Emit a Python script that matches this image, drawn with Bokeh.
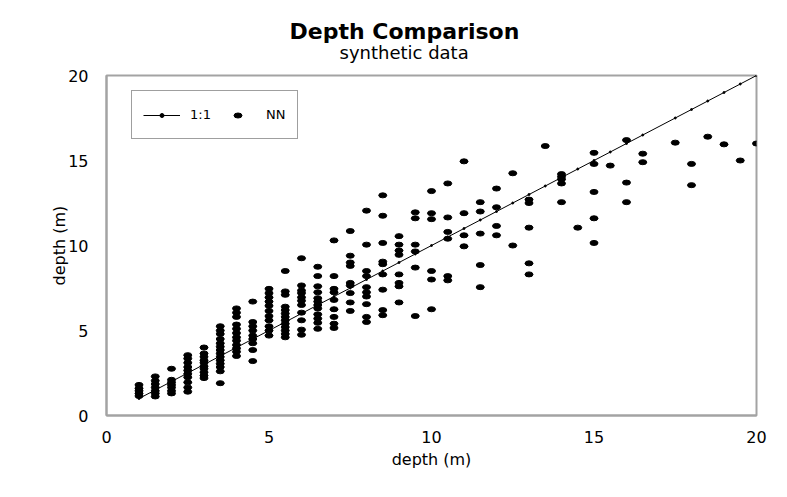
from bokeh.plotting import figure
from bokeh.models import Legend, LegendItem, Range1d, FixedTicker, Title
from bokeh.embed import file_html
from bokeh.resources import INLINE

# ---- data ----
columns = [1, 1.5, 2, 2.5, 3, 3.5, 4, 4.5, 5, 5.5, 6, 6.5, 7, 7.5, 8, 8.5, 9, 9.5,
           10, 10.5, 11, 11.5, 12, 12.5, 13, 13.5, 14, 14.5, 15, 15.5, 16, 16.5,
           17.5, 18, 18.5, 19, 19.5, 20]
depths = [
    [1.8, 1.6, 1.45, 1.3, 1.15],
    [2.3, 2.05, 1.85, 1.65, 1.45, 1.3, 1.12],
    [2.75, 2.1, 1.95, 1.8, 1.65, 1.45, 1.3],
    [3.55, 3.35, 3.1, 2.85, 2.65, 2.45, 2.25, 1.95, 1.65, 1.4],
    [4.0, 3.65, 3.45, 3.25, 3.1, 2.9, 2.75, 2.55, 2.35, 2.2],
    [5.25, 5.0, 4.8, 4.5, 4.25, 4.05, 3.85, 3.65, 3.45, 3.25, 3.05, 2.85, 2.6, 1.9],
    [6.3, 6.05, 5.8, 5.35, 5.1, 4.85, 4.6, 4.4, 4.15, 3.95, 3.75, 3.5],
    [6.7, 5.5, 5.25, 5.0, 4.7, 4.5, 4.25, 3.85, 3.2],
    [7.45, 7.2, 6.95, 6.7, 6.45, 6.15, 5.85, 5.6, 5.25, 5.0, 4.7],
    [8.5, 7.3, 7.1, 6.4, 6.2, 6.0, 5.8, 5.6, 5.4, 5.2, 5.0, 4.8, 4.6],
    [9.25, 7.65, 7.35, 7.2, 6.95, 6.75, 6.5, 6.05, 5.6, 5.05, 4.75],
    [8.75, 8.2, 7.6, 7.25, 6.9, 6.7, 6.5, 6.3, 5.95, 5.7, 5.45, 5.1],
    [10.3, 8.2, 7.45, 7.25, 6.8, 6.25, 5.8, 5.4, 5.15],
    [10.85, 9.4, 9.0, 8.8, 7.8, 7.65, 7.2, 6.65, 6.15],
    [12.05, 10.05, 8.5, 8.2, 7.55, 7.25, 7.0, 6.55, 5.8, 5.5],
    [12.95, 11.75, 10.15, 9.05, 8.9, 8.3, 7.4, 6.2, 5.9],
    [10.55, 10.05, 9.7, 9.45, 8.3, 7.8, 7.6, 6.65],
    [11.95, 11.6, 10.05, 9.65, 8.7, 5.85],
    [13.2, 11.9, 11.55, 8.5, 8.0, 6.25],
    [13.65, 11.65, 10.8, 10.4, 8.2, 7.95],
    [14.95, 11.9, 10.6, 9.95],
    [12.55, 12.0, 10.7, 8.85, 7.55],
    [13.35, 12.25, 11.15, 10.6],
    [14.25, 10.0],
    [12.7, 12.5, 11.05, 8.95, 8.3],
    [15.85],
    [14.2, 14.05, 13.9, 13.65, 12.55],
    [11.05],
    [15.45, 14.8, 13.15, 11.6, 10.15],
    [14.7],
    [16.2, 13.7, 12.55],
    [15.4, 14.9],
    [16.05],
    [14.8, 13.55],
    [16.4],
    [15.95],
    [15.0],
    [16.0],
]
ticks = [0, 5, 10, 15, 20]
title_text = "Depth Comparison"
subtitle_text = "synthetic data"
axis_title = "depth (m)"

x_nn, y_nn = [], []
for c, d in zip(columns, depths):
    x_nn += [c] * len(d)
    y_nn += d

FONT = "DejaVu Sans"
GRAY = "#a3a3a3"
FW, FH = 650, 340

p = figure(frame_width=FW, frame_height=FH,
           min_border_left=106, min_border_right=24, min_border_top=75, min_border_bottom=78,
           x_range=Range1d(0, 20), y_range=Range1d(0, 20),
           output_backend="svg", toolbar_location=None,
           background_fill_color="white", border_fill_color="white")

p.grid.visible = False
p.outline_line_color = GRAY
p.outline_line_width = 2

for ax in (p.xaxis[0], p.yaxis[0]):
    ax.ticker = FixedTicker(ticks=ticks)
    ax.axis_line_color = GRAY
    ax.axis_line_width = 2
    ax.major_tick_line_color = None
    ax.minor_tick_line_color = None
    ax.major_label_text_font = FONT
    ax.major_label_text_font_size = "16px"
    ax.major_label_text_color = "black"
    ax.axis_label = axis_title
    ax.axis_label_text_font = FONT
    ax.axis_label_text_font_size = "16px"
    ax.axis_label_text_font_style = "normal"
    ax.axis_label_text_color = "black"

p.xaxis.major_label_standoff = 9
p.xaxis.axis_label_standoff = 4
p.yaxis.major_label_standoff = 12
p.yaxis.axis_label_standoff = -4

# 1:1 line
line_r = p.line(columns, columns, line_color="black", line_width=1)
ldot_r = p.scatter(columns, columns, size=2, color="black")

# NN points
nn_r = p.ellipse(x=x_nn, y=y_nn, width=8, height=5, width_units="screen",
                 height_units="screen", fill_color="black", line_color="black")

legend = Legend(items=[LegendItem(label="1:1", renderers=[line_r, ldot_r]),
                       LegendItem(label="NN", renderers=[nn_r])],
                orientation="horizontal", location=(25, 276),
                glyph_width=37, glyph_height=10, label_height=25,
                label_standoff=10, spacing=8, padding=11, margin=0,
                label_text_font=FONT, label_text_font_size="13px",
                label_text_color="black",
                border_line_color="#404040", border_line_width=1,
                background_fill_color="white")
p.add_layout(legend)

sub = Title(text=subtitle_text, align="left", offset=233, standoff=25,
            text_font=FONT, text_font_size="18px", text_font_style="normal",
            text_color="black")
main = Title(text=title_text, align="left", offset=183, standoff=-32,
             text_font=FONT, text_font_size="22px", text_font_style="bold",
             text_color="black")
p.add_layout(sub, "above")
p.add_layout(main, "above")

open("out.html", "w").write(file_html(p, INLINE))
